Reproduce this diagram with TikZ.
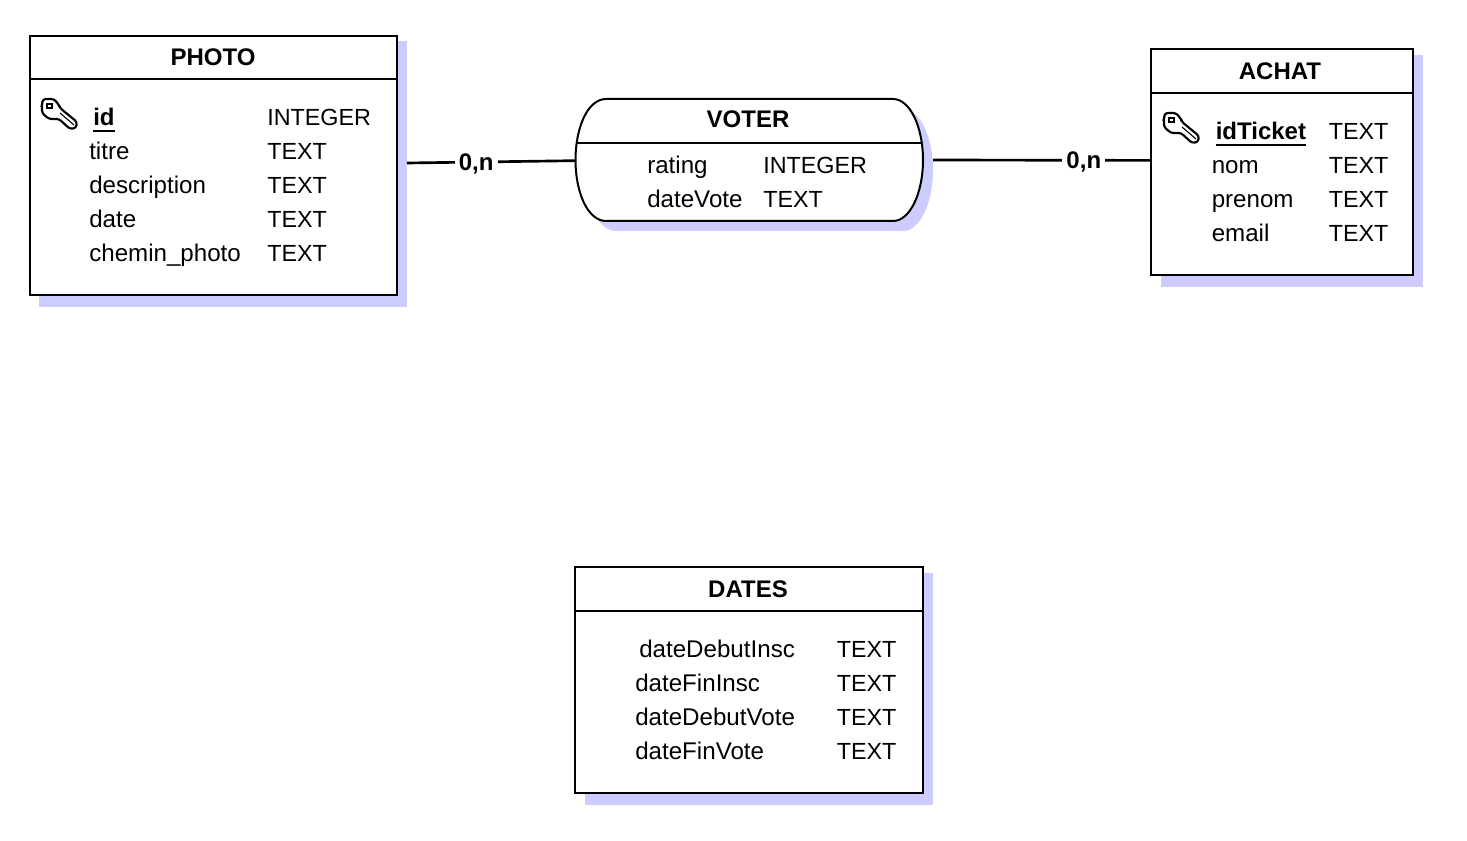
\documentclass[tikz,border=0pt]{standalone}
\usepackage{fontspec}
\setmainfont{Liberation Sans}
\definecolor{shadowblue}{RGB}{204,204,255}
\tikzset{
  entity/.style 2 args={draw, fill=white, line width=1.5pt, minimum width=#1*0.75pt, minimum height=#2*0.75pt, inner sep=0pt},
  relation/.style 2 args={minimum width=#1*0.75pt, minimum height=#2*0.75pt, inner sep=0pt},
  titletext/.style={anchor=base, inner sep=0pt, yshift=-0.6pt, font=\fontsize{18}{21}\selectfont\bfseries},
  fieldtext/.style={anchor=base west, inner sep=0pt, yshift=-0.6pt, font=\fontsize{18.1}{21}\selectfont},
  typetext/.style={anchor=base west, inner sep=0pt, yshift=-0.6pt, font=\fontsize{17.5}{21}\selectfont},
  keytext/.style={anchor=base west, inner sep=0pt, yshift=-0.6pt, font=\fontsize{18}{21}\selectfont\bfseries},
  cardinal/.style={fill=white, inner sep=3pt, text depth=0pt, font=\fontsize{18}{21}\selectfont\bfseries},
  link/.style={line width=2pt},
  keyicon/.pic={
    \draw[fill=white, line width=1.6pt, rounded corners=2pt]
      (1,0) -- (12,0) -- (17,6) -- (18,9) -- (35,23) -- (34,29) -- (28,30) -- (17,20)
      -- (7,20) -- (0,14) -- (0,5) -- cycle;
    \draw[line width=0.8pt] (5,5) rectangle (10,9);
    \draw[line width=0.8pt] (18,14) -- (32,26);
  }
}
\newcommand{\voterpath}{(606,99) -- (893,99) .. controls (910,99) and (923,127) .. (923,160)
  .. controls (923,193) and (910,221) .. (893,221) -- (606,221)
  .. controls (588,221) and (575.5,193) .. (575.5,160) .. controls (575.5,127) and (588,99) .. (606,99) -- cycle}
\begin{document}
\begin{tikzpicture}[x=0.75pt, y=-0.75pt]
  \useasboundingbox (0,0) rectangle (1467,841);

  % shadows
  \fill[shadowblue] (39,41) rectangle (407,307);
  \fill[shadowblue] (1161,55) rectangle (1423,287);
  \fill[shadowblue] (585,573) rectangle (933,805);
  \fill[shadowblue, xshift=7.5pt, yshift=-7.5pt] \voterpath;

  % PHOTO
  \node[entity={367}{259}] (photo) at (213.5,165.5) {};
  \draw[line width=1.2pt] (photo.west |- 0,79) -- (photo.east |- 0,79);
  \node[titletext] (phototitle) at (213,65) {PHOTO};
  \pic at (42,99) {keyicon};
  \node[keytext] (photoid) at (93,125) {id};
  \draw[line width=1.5pt] ([yshift=-3.5pt]photoid.south west) -- ([yshift=-3.5pt]photoid.south east);
  \node[typetext] (photoidtype) at (267,125) {INTEGER};
  \foreach \y/\field/\sqltype in {159/titre/TEXT, 193/description/TEXT, 227/date/TEXT, 261/chemin\_photo/TEXT} {
    \node[fieldtext] (photofield\y) at (89,\y) {\field};
    \node[typetext] (phototype\y) at (267,\y) {\sqltype};
  }

  % ACHAT
  \node[entity={262}{226}] (achat) at (1282,162) {};
  \draw[line width=1.2pt] (achat.west |- 0,93) -- (achat.east |- 0,93);
  \node[titletext] (achattitle) at (1280,79) {ACHAT};
  \pic at (1164,113) {keyicon};
  \node[keytext] (achatid) at (1215.5,139) {idTicket};
  \draw[line width=1.5pt] ([yshift=-3.5pt]achatid.south west) -- ([yshift=-3.5pt]achatid.south east);
  \node[typetext] (achatidtype) at (1328.5,139) {TEXT};
  \foreach \y/\field/\sqltype in {173/nom/TEXT, 207/prenom/TEXT, 241/email/TEXT} {
    \node[fieldtext] (achatfield\y) at (1211.5,\y) {\field};
    \node[typetext] (achattype\y) at (1328.5,\y) {\sqltype};
  }

  % VOTER
  \draw[fill=white, line width=1.5pt] \voterpath;
  \node[relation={347}{122}] (voter) at (749.5,160) {};
  \draw[line width=1.2pt] (577,143) -- (922,143);
  \node[titletext] (votertitle) at (748,127) {VOTER};
  \foreach \y/\field/\sqltype in {173/rating/INTEGER, 207/dateVote/TEXT} {
    \node[fieldtext] (voterfield\y) at (647,\y) {\field};
    \node[typetext] (votertype\y) at (763,\y) {\sqltype};
  }

  % DATES
  \node[entity={348}{226}] (dates) at (749,680) {};
  \draw[line width=1.2pt] (dates.west |- 0,611) -- (dates.east |- 0,611);
  \node[titletext] (datestitle) at (748,597) {DATES};
  \node[fieldtext] (datesfirst) at (639,657) {dateDebutInsc};
  \node[typetext] (datesfirsttype) at (836.5,657) {TEXT};
  \foreach \y/\field/\sqltype in {691/dateFinInsc/TEXT, 725/dateDebutVote/TEXT, 759/dateFinVote/TEXT} {
    \node[fieldtext] (datesfield\y) at (635,\y) {\field};
    \node[typetext] (datestype\y) at (836.5,\y) {\sqltype};
  }

  % links
  \coordinate (photoout) at (407,163);
  \coordinate (voterout) at (933,160);
  \draw[link] (photoout) -- ([yshift=-0.5pt]voter.west) node[cardinal, pos=0.41] (photocard) {0,n};
  \draw[link] (voterout) -- ([yshift=1.2pt]achat.west) node[cardinal, pos=0.695] (achatcard) {0,n};
\end{tikzpicture}
\end{document}
